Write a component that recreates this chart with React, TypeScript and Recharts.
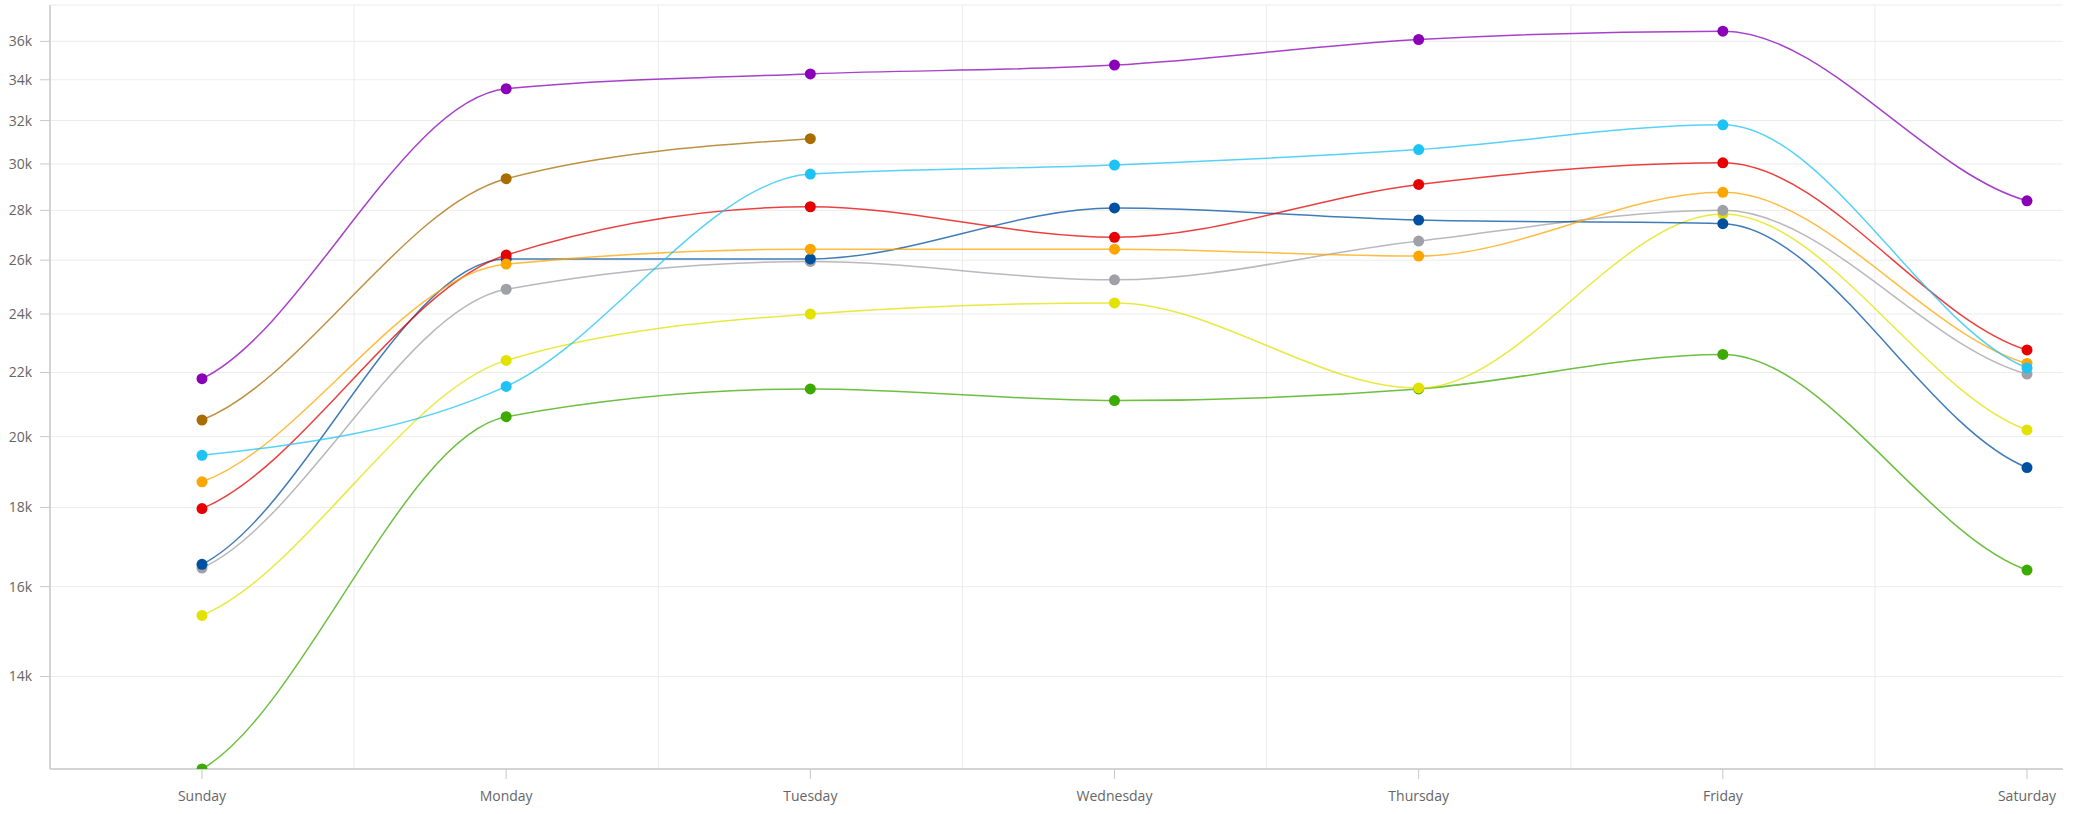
import React from 'react';
import { LineChart, Line, XAxis, YAxis, CartesianGrid } from 'recharts';

const days = ['Sunday', 'Monday', 'Tuesday', 'Wednesday', 'Thursday', 'Friday', 'Saturday'];

// one array per line (values in units)
const purple = [21800, 33550, 34300, 34750, 36100, 36550, 28400];
const brown = [20500, 29350, 31150, null, null, null, null];
const cyan = [19450, 21550, 29550, 29950, 30650, 31800, 22150];
const orange = [18700, 25850, 26430, 26430, 26160, 28760, 22300];
const red = [17970, 26200, 28150, 26900, 29100, 30050, 22750];
const gray = [16450, 24900, 25950, 25250, 26750, 28000, 21950];
const blue = [16540, 26050, 26050, 28100, 27600, 27450, 19100];
const yellow = [15330, 22400, 24000, 24400, 21500, 27850, 20200];
const green = [12200, 20600, 21470, 21100, 21470, 22600, 16400];

const yTicks = [14000, 16000, 18000, 20000, 22000, 24000, 26000, 28000, 30000, 32000, 34000, 36000];

const series = [
  { key: 'green', values: green, color: '#3caa00' },
  { key: 'yellow', values: yellow, color: '#e2e200' },
  { key: 'gray', values: gray, color: '#a0a0a8' },
  { key: 'blue', values: blue, color: '#0050a0' },
  { key: 'red', values: red, color: '#e60000' },
  { key: 'orange', values: orange, color: '#ffa500' },
  { key: 'cyan', values: cyan, color: '#1ec3f5' },
  { key: 'brown', values: brown, color: '#a86c00' },
  { key: 'purple', values: purple, color: '#8a00b8' },
];

const data = days.map((day, i) => {
  const row: Record<string, string | number | null> = { day };
  series.forEach(s => {
    row[s.key] = s.values[i];
  });
  return row;
});

const font = '"Open Sans", "Noto Sans", sans-serif';

// smooth curve: monotone tangents inside, softer tangents at both ends
const smoothCurve = (context: any) => {
  let xs: number[] = [];
  let ys: number[] = [];
  return {
    areaStart() {},
    areaEnd() {},
    lineStart() {
      xs = [];
      ys = [];
    },
    point(x: number, y: number) {
      xs.push(+x);
      ys.push(+y);
    },
    lineEnd() {
      const n = xs.length;
      if (!n) return;
      context.moveTo(xs[0], ys[0]);
      if (n === 1) return;
      if (n === 2) {
        context.lineTo(xs[1], ys[1]);
        return;
      }
      const sec: number[] = [];
      for (let i = 0; i < n - 1; i++) sec.push((ys[i + 1] - ys[i]) / (xs[i + 1] - xs[i]));
      const t: number[] = new Array(n).fill(0);
      for (let i = 1; i < n - 1; i++) {
        const s0 = sec[i - 1];
        const s1 = sec[i];
        const h0 = xs[i] - xs[i - 1];
        const h1 = xs[i + 1] - xs[i];
        const p = (s0 * h1 + s1 * h0) / (h0 + h1);
        t[i] = (Math.sign(s0) + Math.sign(s1)) * Math.min(Math.abs(s0), Math.abs(s1), 0.5 * Math.abs(p)) || 0;
      }
      t[0] = sec[0] * 0.5;
      t[n - 1] = sec[n - 2] * 0.5;
      for (let i = 0; i < n - 1; i++) {
        const h = (xs[i + 1] - xs[i]) / 3;
        context.bezierCurveTo(
          xs[i] + h, ys[i] + t[i] * h,
          xs[i + 1] - h, ys[i + 1] - t[i + 1] * h,
          xs[i + 1], ys[i + 1]
        );
      }
    },
  };
};

// vertical grid lines sit halfway between the day points
const midLines = (props: any) => {
  const { xAxis, offset } = props;
  const pos: number[] = [];
  const scale = xAxis && xAxis.scale;
  for (let i = 0; i < days.length - 1; i++) {
    let a: number | undefined;
    let b: number | undefined;
    if (typeof scale === 'function') {
      a = scale(days[i]);
      b = scale(days[i + 1]);
    }
    if (typeof a !== 'number' || typeof b !== 'number' || isNaN(a) || isNaN(b)) {
      const step = (offset.width - 188) / (days.length - 1);
      a = offset.left + 152 + step * i;
      b = a + step;
    }
    pos.push((a + b) / 2);
  }
  return pos;
};

const App: React.FC = () => {
  return (
    <div style={{ position: 'absolute', left: 0, top: 0, background: '#fff' }}>
      <LineChart
        width={2074}
        height={814}
        data={data}
        margin={{ top: 5, right: 11, bottom: 0, left: 0 }}
      >
        <CartesianGrid stroke="#ececec" strokeWidth={1} verticalCoordinatesGenerator={midLines} />
        <XAxis
          dataKey="day"
          height={45}
          padding={{ left: 152, right: 36 }}
          axisLine={{ stroke: '#d4d4d4', strokeWidth: 2 }}
          tickLine={{ stroke: '#c8c8c8' }}
          tickSize={10}
          tickMargin={12}
          tick={{ fill: '#666', fontSize: 14, fontFamily: font }}
        />
        <YAxis
          width={50}
          scale="log"
          domain={[12200, 38000]}
          allowDataOverflow
          ticks={yTicks}
          interval={0}
          tickFormatter={(v: number) => `${v / 1000}k`}
          axisLine={{ stroke: '#d4d4d4', strokeWidth: 2 }}
          tickLine={{ stroke: '#c8c8c8' }}
          tickSize={10}
          tickMargin={8}
          tick={{ fill: '#666', fontSize: 14, fontFamily: font }}
        />
        {series.map(s => (
          <Line
            key={s.key}
            type={smoothCurve as any}
            dataKey={s.key}
            stroke={s.color}
            strokeOpacity={0.75}
            strokeWidth={1.5}
            dot={{ r: 5.5, fill: s.color, stroke: 'none', fillOpacity: 1 }}
            activeDot={false}
            connectNulls={false}
            isAnimationActive={false}
          />
        ))}
      </LineChart>
    </div>
  );
};

export default App;
